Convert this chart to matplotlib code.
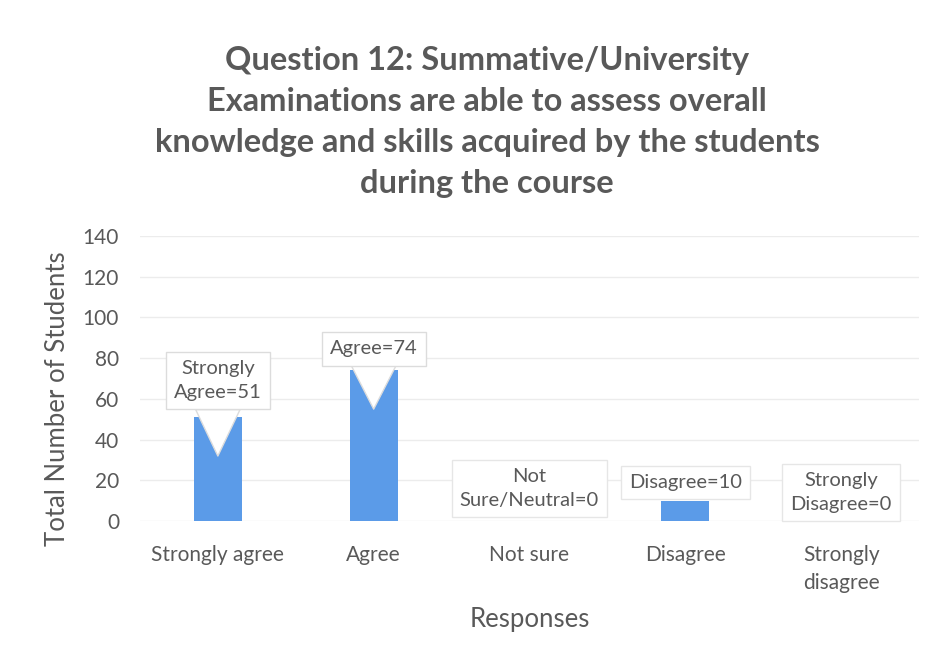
import matplotlib.pyplot as plt

categories = ['Strongly agree', 'Agree', 'Not sure', 'Disagree', 'Strongly\ndisagree']
counts = [51, 74, 0, 10, 0]
callouts = ['Strongly\nAgree=51', 'Agree=74', 'Not\nSure/Neutral=0', 'Disagree=10', 'Strongly\nDisagree=0']
callout_y = [69, 84.5, 16, 19, 14]
yticks = [0, 20, 40, 60, 80, 100, 120, 140]

grey = '#595959'
plt.rcParams['font.family'] = ['Lato', 'DejaVu Sans']

fig = plt.figure(figsize=(9.33, 6.7), dpi=100)
ax = fig.add_axes([0.150, 0.222, 0.835, 0.426])

x = range(len(categories))
ax.bar(x, counts, width=0.31, color='#5b9be8', zorder=2)

for i, (lab, cy, v) in enumerate(zip(callouts, callout_y, counts)):
    if v > 20:
        ax.annotate(lab, xy=(i, v - 19), xytext=(i, cy), ha='center', va='center',
                    fontsize=14.5, color=grey, linespacing=1.5,
                    bbox=dict(boxstyle='square,pad=0.4', fc='white', ec='#dcdcdc', lw=1),
                    arrowprops=dict(arrowstyle='wedge,tail_width=2.2', fc='white', ec='#dcdcdc',
                                    shrinkA=0, shrinkB=0),
                    zorder=3)
    else:
        ax.text(i, cy, lab, ha='center', va='center', linespacing=1.5,
                fontsize=14.5, color=grey, zorder=3,
                bbox=dict(boxstyle='square,pad=0.4', fc='white', ec='#e6e6e6', lw=1))

ax.set_ylim(0, 140)
ax.set_xlim(-0.5, 4.5)
ax.set_yticks(yticks)
ax.set_xticks(list(x))
ax.set_xticklabels(categories, va='top', linespacing=1.5)
ax.tick_params(axis='both', length=0, colors=grey, labelsize=15)
ax.tick_params(axis='x', pad=17)
ax.tick_params(axis='y', pad=15)
ax.grid(axis='y', color='#ececec', lw=1, zorder=0)
for s in ax.spines.values():
    s.set_visible(False)

ax.set_ylabel('Total Number of Students', fontsize=18.5, color=grey, labelpad=4)
ax.yaxis.set_label_coords(-0.09, 0.43)
ax.set_xlabel('Responses', fontsize=18.5, color=grey, labelpad=10)

fig.text(0.522, 0.818, 'Question 12: Summative/University\nExaminations are able to assess overall\n'
         'knowledge and skills acquired by the students\nduring the course',
         ha='center', va='center', fontsize=23.5, fontweight='bold', color=grey, linespacing=1.5)

fig.savefig('out.png', dpi=100)
